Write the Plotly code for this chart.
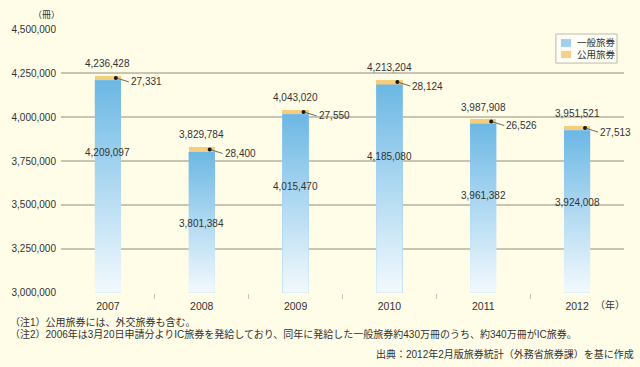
import plotly.graph_objects as go

years = ["2007", "2008", "2009", "2010", "2011", "2012"]
general = [4209097, 3801384, 4015470, 4185080, 3961382, 3924008]
official = [27331, 28400, 27550, 28124, 26526, 27513]
totals = [4236428, 3829784, 4043020, 4213204, 3987908, 3951521]
ytick_vals = [3000000, 3250000, 3500000, 3750000, 4000000, 4250000, 4500000]
series_names = ["一般旅券", "公用旅券"]

FONT = "Liberation Sans, Arial, Noto Sans CJK JP, sans-serif"
BG = "#FFFCE7"
GRID = "#C9C5B0"
TXT = "#333333"
BLUE = "#9DD0EE"
ORANGE = "#F6CD78"
W = 0.28

xs = list(range(len(years)))

fig = go.Figure()
fig.add_trace(go.Bar(x=xs, y=general, name=series_names[0], width=W,
                     marker=dict(color=BLUE, line=dict(width=0)), showlegend=False))
fig.add_trace(go.Bar(x=xs, y=official, name=series_names[1], width=W,
                     marker=dict(color=ORANGE, line=dict(width=0)), showlegend=False))

ymin = ytick_vals[0]
# gradient overlay for the general series, derived from the same data
for i, v in zip(xs, general):
    fig.add_trace(go.Scatter(
        x=[i - W / 2, i + W / 2, i + W / 2, i - W / 2, i - W / 2],
        y=[ymin, ymin, v, v, ymin],
        mode="lines", line=dict(width=0), fill="toself",
        fillgradient=dict(type="vertical",
                          colorscale=[[0, "#F3F9FD"], [0.55, "#A9D6F0"], [1, "#6CB7E4"]]),
        hoverinfo="skip", showlegend=False))

# dots for official leader lines
fig.add_trace(go.Scatter(
    x=[i + 0.085 for i in xs],
    y=[g + o / 2 for g, o in zip(general, official)],
    mode="markers", marker=dict(color="#111", size=4),
    hoverinfo="skip", showlegend=False))

ann = []
for i, g, o, t in zip(xs, general, official, totals):
    ann.append(dict(x=i, y=t, text=f"{t:,}", showarrow=False, yshift=12,
                    font=dict(size=10, color=TXT, family=FONT)))
    ann.append(dict(x=i, y=g, text=f"{g:,}", showarrow=False, yshift=-72,
                    font=dict(size=10, color=TXT, family=FONT)))
    ann.append(dict(x=i + 0.085, y=g + o / 2, text=f"{o:,}", showarrow=True,
                    arrowhead=0, arrowwidth=0.8, arrowcolor="#444",
                    ax=13, ay=4, xanchor="left", yanchor="middle",
                    font=dict(size=10, color=TXT, family=FONT)))


def paper_text(x, y, text, size, xanchor="center"):
    return dict(xref="paper", yref="paper", x=x, y=y, text=text,
                xanchor=xanchor, yanchor="middle", showarrow=False,
                font=dict(size=size, color=TXT, family=FONT))


ann += [
    paper_text(-0.025, 1.053, "（冊）", 9),
    paper_text(0.975, -0.047, "（年）", 10),
    paper_text(-0.094, -0.11, "（注1）公用旅券には、外交旅券も含む。", 10, "left"),
    paper_text(-0.094, -0.155,
               "（注2）2006年は3月20日申請分よりIC旅券を発給しており、同年に発給した一般旅券約430万冊のうち、約340万冊がIC旅券。",
               10, "left"),
    paper_text(1.021, -0.231, "出典：2012年2月版旅券統計（外務省旅券課）を基に作成", 10, "right"),
    paper_text(0.913, 0.947, series_names[0], 9.5, "left"),
    paper_text(0.913, 0.902, series_names[1], 9.5, "left"),
]

shapes = [
    dict(type="rect", xref="paper", yref="paper", x0=0.879, x1=0.9876,
         y0=0.871, y1=0.981, fillcolor="#FFFEF6",
         line=dict(color="#BDBAA8", width=1), layer="above"),
    dict(type="rect", xref="paper", yref="paper", x0=0.888, x1=0.906,
         y0=0.932, y1=0.962, fillcolor="#9FD1EF", line=dict(width=0), layer="above"),
    dict(type="rect", xref="paper", yref="paper", x0=0.888, x1=0.906,
         y0=0.890, y1=0.917, fillcolor="#F6D08A", line=dict(width=0), layer="above"),
]

fig.update_layout(
    width=640, height=367,
    margin=dict(l=61, r=16, t=29, b=74, autoexpand=False),
    paper_bgcolor=BG, plot_bgcolor=BG,
    barmode="stack", bargap=0,
    font=dict(family=FONT, size=10, color=TXT),
    showlegend=False,
    annotations=ann,
    shapes=shapes,
)
fig.update_xaxes(range=[-0.5, len(years) - 0.5], tickmode="array",
                 tickvals=xs, ticktext=years, showgrid=False, zeroline=False,
                 showline=False, ticks="", ticklabelstandoff=5,
                 tickfont=dict(size=10.5, color=TXT, family=FONT),
                 minor=dict(tickmode="array",
                            tickvals=[i + 0.5 for i in xs[:-1]],
                            ticks="outside", ticklen=5, tickcolor=GRID, tickwidth=1))
fig.update_yaxes(range=[ytick_vals[0] - 1000, ytick_vals[-1] + 1000], tickmode="array",
                 tickvals=ytick_vals,
                 ticktext=[f"{v:,}" for v in ytick_vals],
                 showgrid=True, gridcolor=GRID, gridwidth=1.5,
                 zeroline=False, showline=False, ticks="",
                 ticklabelstandoff=4,
                 tickfont=dict(size=10, color=TXT, family=FONT))

fig.write_html("out.html", post_script="document.body.style.margin='0';",
               config={"displayModeBar": False})
